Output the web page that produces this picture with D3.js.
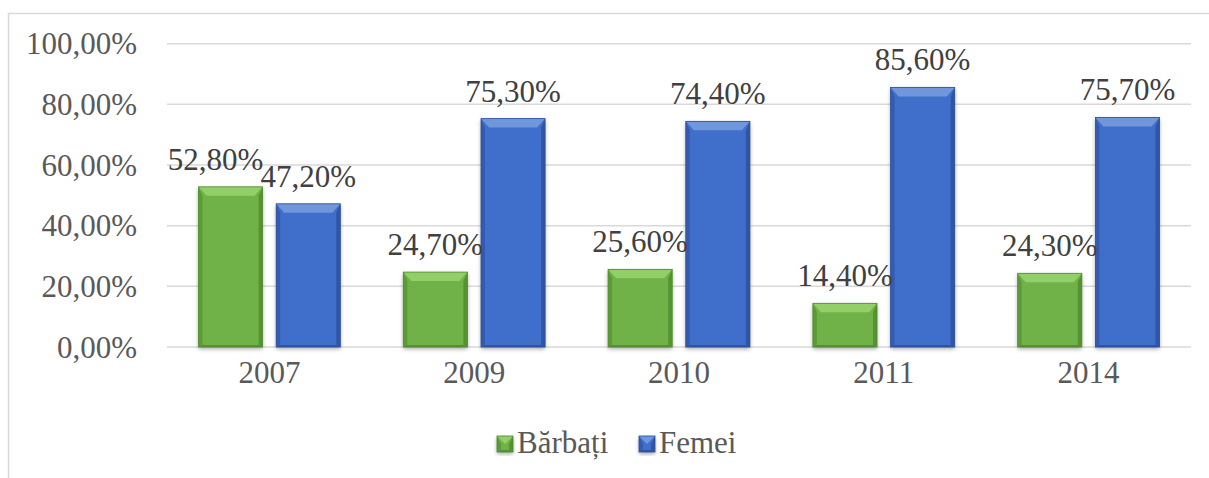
<!DOCTYPE html>
<html>
<head>
<meta charset="utf-8">
<script src="https://cdn.jsdelivr.net/npm/d3@7"></script>
<style>
  html, body { margin: 0; padding: 0; background: #fff; }
  svg { display: block; }
</style>
</head>
<body>
<svg width="1209" height="478"></svg>
<script>
var years = ["2007", "2009", "2010", "2011", "2014"];
var seriesNames = ["Bărbați", "Femei"];
var barbati = [0.528, 0.247, 0.256, 0.144, 0.243];
var femei = [0.472, 0.753, 0.744, 0.856, 0.757];
var yTicks = [0, 0.2, 0.4, 0.6, 0.8, 1.0];

var svg = d3.select("svg")
    .attr("font-family", "'Liberation Serif', 'Times New Roman', 'DejaVu Serif', serif");
var plotLeft = 167, plotRight = 1191, plotBottom = 347, plotTop = 43.7;
var fontSize = 31;
var serif = "'Liberation Serif', 'Times New Roman', 'DejaVu Serif', serif";

var colors = {
    "Bărbați": { main: "#70b246", light: "#93cf68", dark: "#4f8a2d" },
    "Femei": { main: "#3f6ecb", light: "#7096dc", dark: "#2b4f9c" }
};

var fmt = function (v) {
    return d3.format(".2f")(v * 100).replace(".", ",") + "%";
};

// outer frame
svg.append("rect").attr("x", 8.5).attr("y", 13.5)
    .attr("width", 1220).attr("height", 480)
    .attr("fill", "none").attr("stroke", "#d9d9d9").attr("stroke-width", 1.5);

var x0 = d3.scaleBand().domain(years).range([plotLeft, plotRight]);
var x1 = d3.scaleBand().domain(seriesNames)
    .range([31.5, x0.bandwidth() - 31.5]).paddingInner(0.175);
var y = d3.scaleLinear().domain([0, 1]).range([plotBottom, plotTop]);

// shadow filter
var defs = svg.append("defs");
var f = defs.append("filter").attr("id", "shadow")
    .attr("x", "-20%").attr("y", "-20%").attr("width", "140%").attr("height", "140%");
f.append("feGaussianBlur").attr("in", "SourceAlpha").attr("stdDeviation", 2);
f.append("feOffset").attr("dx", 0).attr("dy", 2).attr("result", "b");
f.append("feComponentTransfer").append("feFuncA").attr("type", "linear").attr("slope", 0.35);
var fm = f.append("feMerge");
fm.append("feMergeNode");
fm.append("feMergeNode").attr("in", "SourceGraphic");

// gridlines + y labels
var yAxis = svg.append("g");
yAxis.selectAll("line").data(yTicks).enter().append("line")
    .attr("x1", plotLeft).attr("x2", plotRight)
    .attr("y1", function (d) { return y(d); })
    .attr("y2", function (d) { return y(d); })
    .attr("stroke", "#d9d9d9").attr("stroke-width", 1.5);
yAxis.selectAll("text").data(yTicks).enter().append("text")
    .attr("x", 137).attr("y", function (d) { return y(d); })
    .attr("dy", "0.34em").attr("text-anchor", "end")
    .attr("font-family", serif)
    .attr("font-size", fontSize).attr("fill", "#595959")
    .text(fmt);

// x labels
svg.append("g").selectAll("text").data(years).enter().append("text")
    .attr("x", function (d) { return x0(d) + x0.bandwidth() / 2; })
    .attr("y", 383).attr("text-anchor", "middle")
    .attr("font-family", serif)
    .attr("font-size", fontSize).attr("fill", "#595959")
    .text(function (d) { return d; });

// bars
var rows = [];
years.forEach(function (yr, i) {
    rows.push({ year: yr, name: "Bărbați", value: barbati[i] });
    rows.push({ year: yr, name: "Femei", value: femei[i] });
});

function bevelBar(g, bx, by, w, h, c) {
    var t = Math.min(9, h / 2), s = 4;
    g.append("rect").attr("x", bx).attr("y", by).attr("width", w).attr("height", h)
        .attr("fill", c.main).attr("filter", "url(#shadow)");
    // sides
    g.append("polygon").attr("points", [[bx, by], [bx + s, by + t], [bx + s, by + h - 2], [bx, by + h]].join(" "))
        .attr("fill", c.dark).attr("opacity", 0.6);
    g.append("polygon").attr("points", [[bx + w, by], [bx + w - s, by + t], [bx + w - s, by + h - 2], [bx + w, by + h]].join(" "))
        .attr("fill", c.dark).attr("opacity", 0.8);
    g.append("polygon").attr("points", [[bx, by + h], [bx + s, by + h - 2], [bx + w - s, by + h - 2], [bx + w, by + h]].join(" "))
        .attr("fill", c.dark).attr("opacity", 0.8);
    // top bevel
    g.append("polygon").attr("points", [[bx, by], [bx + w, by], [bx + w - s - 4, by + t], [bx + s + 4, by + t]].join(" "))
        .attr("fill", c.light);
    g.append("rect").attr("x", bx).attr("y", by).attr("width", w).attr("height", h)
        .attr("fill", "none").attr("stroke", c.dark).attr("stroke-width", 0.8);
}

var barG = svg.append("g");
rows.forEach(function (d) {
    var bx = x0(d.year) + x1(d.name);
    var by = y(d.value);
    bevelBar(barG, bx, by, x1.bandwidth(), plotBottom - by, colors[d.name]);
});

// data labels
var nudge = { "2007|Bărbați": -15 };
svg.append("g").selectAll("text").data(rows).enter().append("text")
    .attr("x", function (d) {
        return x0(d.year) + x1(d.name) + x1.bandwidth() / 2 + (nudge[d.year + "|" + d.name] || 0);
    })
    .attr("y", function (d) { return y(d.value) - 17; })
    .attr("text-anchor", "middle")
    .attr("font-family", serif)
    .attr("font-size", fontSize).attr("fill", "#404040")
    .text(function (d) { return fmt(d.value); });

// legend
var legendX = [497, 639];
var legend = svg.append("g");
seriesNames.forEach(function (n, i) {
    var g = legend.append("g");
    bevelBar(g, legendX[i], 436, 16, 16, colors[n]);
    g.append("text").attr("x", legendX[i] + 20).attr("y", 453)
        .attr("font-family", serif)
        .attr("font-size", fontSize).attr("fill", "#595959").text(n);
});
</script>
</body>
</html>
